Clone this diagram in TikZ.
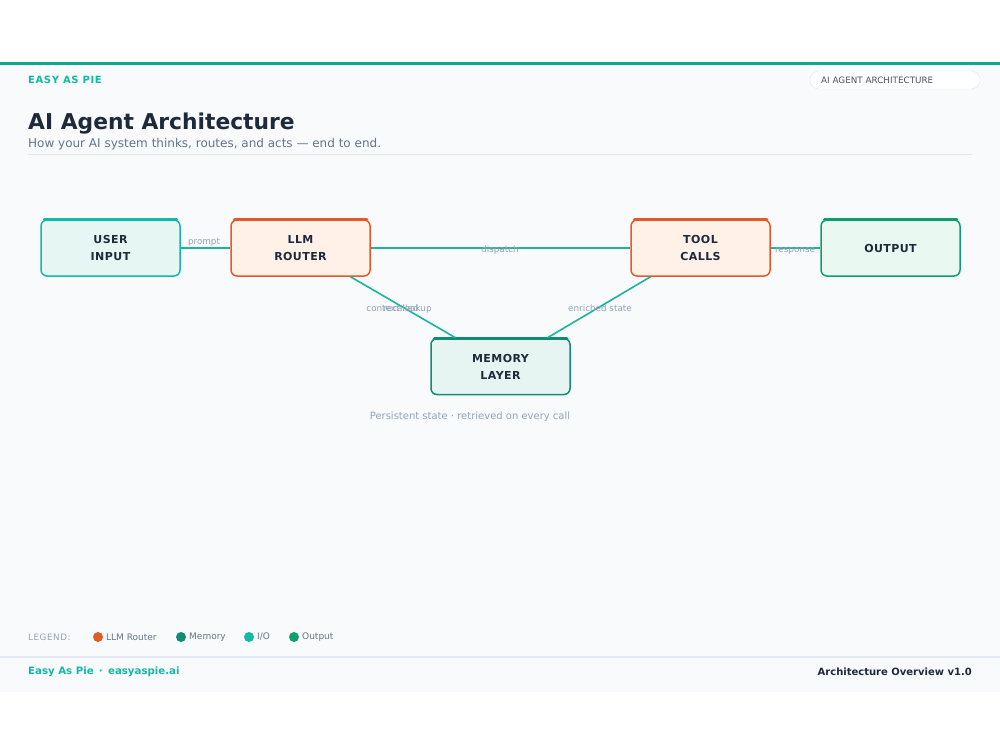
\documentclass[tikz,border=0pt]{standalone}
\usepackage{fontspec}
\setmainfont{DejaVu Sans}
\newfontfamily\spacedfont[LetterSpace=6]{DejaVu Sans}
\newfontfamily\nodefont[LetterSpace=4]{DejaVu Sans}
\definecolor{teal}{HTML}{14B8A6}
\definecolor{tealline}{HTML}{12A594}
\definecolor{edge}{HTML}{1DB39F}
\definecolor{orange}{HTML}{E2592A}
\definecolor{orangefill}{HTML}{FFF1E8}
\definecolor{iofill}{HTML}{E6F7F3}
\definecolor{green}{HTML}{0E9F6E}
\definecolor{greenfill}{HTML}{E9F8F0}
\definecolor{memc}{HTML}{0E8C76}
\definecolor{memfill}{HTML}{E6F5F1}
\definecolor{ink}{HTML}{1E293B}
\definecolor{sub}{HTML}{64748B}
\definecolor{muted}{HTML}{94A3B8}
\definecolor{rule}{HTML}{E2E8F0}
\definecolor{bg}{HTML}{F8FAFC}
\begin{document}
\begin{tikzpicture}[x=1pt,y=-1pt,
  box/.style={draw, line width=1.5pt, rounded corners=6pt, minimum width=139pt, minimum height=56pt,
    align=center, inner sep=0pt, text=ink, font=\nodefont\bfseries\fontsize{11}{17}\selectfont},
  iobox/.style={box, draw=teal, fill=iofill},
  llmbox/.style={box, draw=orange, fill=orangefill},
  outbox/.style={box, draw=green, fill=greenfill},
  membox/.style={box, draw=memc, fill=memfill},
  conn/.style={draw=edge, line width=1.6pt},
  elabel/.style={text=muted, font=\fontsize{8.8}{10}\selectfont, inner sep=1pt, anchor=base},
  legdot/.style={circle, minimum size=10pt, inner sep=0pt},
  legtext/.style={text=sub, font=\fontsize{9}{11}\selectfont, anchor=west, inner sep=0pt}
]
\useasboundingbox (0,0) rectangle (1000,750);
\fill[white] (0,0) rectangle (1000,750);
\fill[bg] (0,62) rectangle (1000,692);
\draw[tealline, line width=3pt] (0,63) -- (1000,63);

% header
\node[anchor=west, inner sep=0pt, text=teal, font=\spacedfont\bfseries\fontsize{10}{12}\selectfont] (brand) at (28,80) {EASY AS PIE};
\node[draw=rule, fill=white, rounded corners=9pt, minimum width=170pt, minimum height=18pt, inner sep=0pt] (pill) at (895,80) {};
\node[anchor=west, inner sep=0pt, text=ink!80, font=\fontsize{8.8}{10}\selectfont] (pilltext) at (821,80) {AI AGENT ARCHITECTURE};

\node[anchor=base west, inner sep=0pt, text=ink, font=\bfseries\fontsize{21.8}{26}\selectfont] (title) at (28,129) {AI Agent Architecture};
\node[anchor=base west, inner sep=0pt, text=sub, font=\fontsize{12}{14}\selectfont] (subtitle) at (28,147) {How your AI system thinks, routes, and acts — end to end.};
\draw[rule, line width=1pt] (28,154) -- (972,154);

% nodes
\node[iobox] (user) at (110.5,248) {USER\\INPUT};
\node[llmbox] (llm) at (300.5,248) {LLM\\ROUTER};
\node[llmbox] (tool) at (700.5,248) {TOOL\\CALLS};
\node[outbox] (out) at (890.5,248) {OUTPUT};
\node[membox] (mem) at (500.5,366.5) {MEMORY\\LAYER};

% top accent bars
\draw[teal, line width=3pt, line cap=round] ([xshift=4pt,yshift=-0.5pt]user.north west) -- ([xshift=-4pt,yshift=-0.5pt]user.north east);
\draw[orange, line width=3pt, line cap=round] ([xshift=4pt,yshift=-0.5pt]llm.north west) -- ([xshift=-4pt,yshift=-0.5pt]llm.north east);
\draw[orange, line width=3pt, line cap=round] ([xshift=4pt,yshift=-0.5pt]tool.north west) -- ([xshift=-4pt,yshift=-0.5pt]tool.north east);
\draw[green, line width=3pt, line cap=round] ([xshift=4pt,yshift=-0.5pt]out.north west) -- ([xshift=-4pt,yshift=-0.5pt]out.north east);
\draw[memc, line width=3pt, line cap=round] ([xshift=4pt,yshift=-0.5pt]mem.north west) -- ([xshift=-4pt,yshift=-0.5pt]mem.north east);

% connectors
\draw[conn] (user.east) -- (llm.west);
\draw[conn] (llm.east) -- (tool.west);
\draw[conn] (tool.east) -- (out.west);
\draw[conn] ([xshift=50pt]llm.south) -- ([xshift=-45pt]mem.north);
\draw[conn] ([xshift=-50pt]tool.south) -- ([xshift=47pt]mem.north);

% connector labels
\node[elabel] (lprompt) at (204,244) {prompt};
\node[elabel] (ldispatch) at (500,252) {dispatch};
\node[elabel] (lresponse) at (795,252) {response};
\node[elabel] (lcontext) at (399,311) {context lookup};
\node[elabel] (lrecall) at (401,311) {recalled};
\node[elabel] (lenriched) at (600,311) {enriched state};

\node[text=muted, font=\fontsize{10}{12}\selectfont, inner sep=0pt] (caption) at (470,417) {Persistent state · retrieved on every call};

% legend
\node[anchor=west, inner sep=0pt, text=muted, font=\spacedfont\fontsize{8.8}{10}\selectfont] (legend) at (28,637) {LEGEND:};
\node[legdot, fill=orange] (d1) at (98,637) {};
\node[legtext] (t1) at (106,637) {LLM Router};
\node[legdot, fill=memc] (d2) at (181,637) {};
\node[legtext] (t2) at (189,637) {Memory};
\node[legdot, fill=teal] (d3) at (249,637) {};
\node[legtext] (t3) at (257,637) {I/O};
\node[legdot, fill=green] (d4) at (294,637) {};
\node[legtext] (t4) at (302,637) {Output};

% footer
\draw[rule, line width=1.5pt] (0,657) -- (1000,657);
\node[anchor=west, inner sep=0pt, text=teal, font=\bfseries\fontsize{10.2}{12}\selectfont] (foot1) at (28,672) {Easy As Pie \,·\, easyaspie.ai};
\node[anchor=east, inner sep=0pt, text=ink, font=\bfseries\fontsize{10}{12}\selectfont] (foot2) at (972,672) {Architecture Overview v1.0};
\end{tikzpicture}
\end{document}
